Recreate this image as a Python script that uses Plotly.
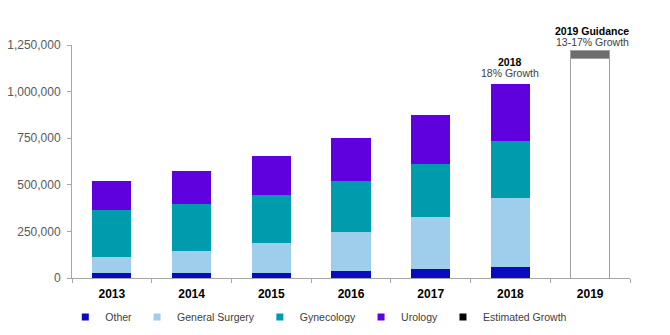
import plotly.graph_objects as go

years = ["2013", "2014", "2015", "2016", "2017", "2018", "2019"]
other = [25000, 25000, 28000, 36000, 47000, 57000, None]
general_surgery = [89000, 120000, 160000, 212000, 280000, 374000, None]
gynecology = [252000, 252000, 257000, 271000, 283000, 306000, None]
urology = [156000, 175000, 210000, 232000, 266000, 304000, None]
guidance_base = [None, None, None, None, None, None, 1176000]
estimated_growth = [None, None, None, None, None, None, 42000]
y_ticks = [0, 250000, 500000, 750000, 1000000, 1250000]

colors = {
    "Other": "#0a0ac0",
    "General Surgery": "#9fcdec",
    "Gynecology": "#009cad",
    "Urology": "#5f00df",
    "Estimated Growth": "#000000",
}
growth_bar_color = "#6d6d6d"
outline = "#a0a0a0"
font_family = "Liberation Sans, Arial, sans-serif"

fig = go.Figure()
series = [("Other", other), ("General Surgery", general_surgery),
          ("Gynecology", gynecology), ("Urology", urology)]
for name, vals in series:
    fig.add_trace(go.Bar(x=years, y=vals, name=name, marker_color=colors[name],
                         marker_line_width=0, showlegend=False))
fig.add_trace(go.Bar(x=years, y=guidance_base, name="Guidance",
                     marker=dict(color="white", line=dict(color=outline, width=1)),
                     showlegend=False))
fig.add_trace(go.Bar(x=years, y=estimated_growth, name="Estimated Growth",
                     marker=dict(color=growth_bar_color, line=dict(color=outline, width=1)),
                     showlegend=False))

# legend entries (small square markers)
for name in ["Other", "General Surgery", "Gynecology", "Urology", "Estimated Growth"]:
    fig.add_trace(go.Scatter(x=[years[0]], y=[None], mode="markers", name=name,
                             marker=dict(symbol="square", size=7, color=colors[name]),
                             showlegend=True))

i18 = years.index("2018")
i19 = years.index("2019")
total_2018 = other[i18] + general_surgery[i18] + gynecology[i18] + urology[i18]
total_2019 = guidance_base[i19] + estimated_growth[i19]

ann_font = dict(family=font_family, size=10.5, color="#000000")
ann_font2 = dict(family=font_family, size=10.5, color="#404040")
annotations = [
    dict(x=i18, y=total_2018, text="18% Growth", showarrow=False, yanchor="middle",
         yshift=11, font=ann_font2),
    dict(x=i18, y=total_2018, text="<b>2018</b>", showarrow=False, yanchor="middle",
         yshift=22, font=ann_font),
    dict(x=i19, y=total_2019, text="13-17% Growth", showarrow=False, yanchor="middle",
         yshift=9, xshift=2, font=ann_font2),
    dict(x=i19, y=total_2019, text="<b>2019 Guidance</b>", showarrow=False, yanchor="middle",
         yshift=20, xshift=2, font=ann_font),
]

fig.update_layout(
    barmode="stack",
    bargap=0.51,
    width=670, height=335,
    margin=dict(l=72, r=40, t=45, b=57, autoexpand=False),
    plot_bgcolor="white", paper_bgcolor="white",
    font=dict(family=font_family),
    annotations=annotations,
    legend=dict(orientation="h", x=-0.012, xanchor="left", y=-0.167, yanchor="middle",
                font=dict(family=font_family, size=10.5, color="#404040"),
                itemwidth=30, bgcolor="rgba(0,0,0,0)", traceorder="normal"),
)
fig.update_xaxes(
    type="category", categoryorder="array", categoryarray=years,
    range=[-0.5, len(years) - 0.5],
    showline=True, linecolor="#a6a6a6", linewidth=1,
    ticks="outside", tickson="boundaries", ticklen=4, tickcolor="#a6a6a6",
    ticklabelstandoff=5,
    tickfont=dict(family=font_family, size=12, color="#000000", weight="bold"),
    showgrid=False, zeroline=False,
)
fig.update_yaxes(
    range=[0, 1250000], tickvals=y_ticks,
    ticktext=[f"{v:,}" for v in y_ticks],
    showline=True, linecolor="#a6a6a6", linewidth=1,
    ticks="outside", ticklen=4, tickcolor="#a6a6a6",
    ticklabelstandoff=4,
    tickfont=dict(family=font_family, size=12, color="#595959"),
    showgrid=False, zeroline=False,
)

fig.write_html("out.html")
